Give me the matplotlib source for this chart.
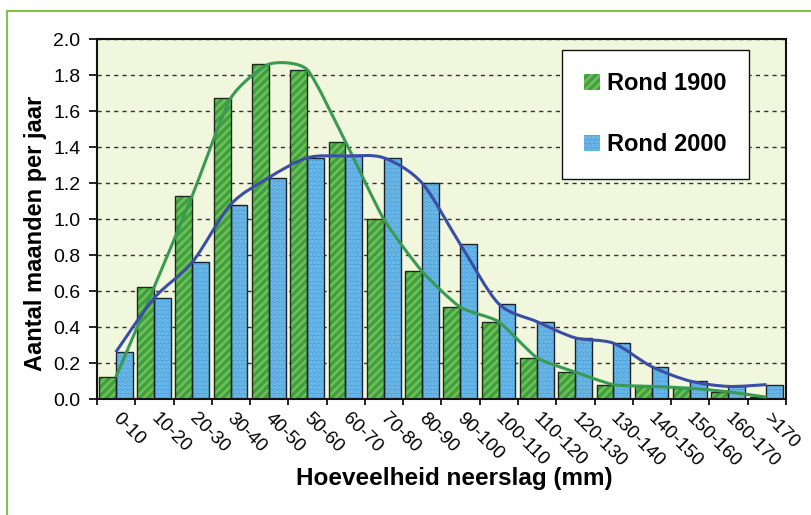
import numpy as np
import matplotlib.pyplot as plt
from matplotlib.patches import Rectangle, PathPatch
from matplotlib.path import Path
from matplotlib.transforms import ScaledTranslation

plt.rcParams['font.family'] = ['Liberation Sans', 'DejaVu Sans']
plt.rcParams['hatch.linewidth'] = 2.0

## DATA ##
categories = ['0-10', '10-20', '20-30', '30-40', '40-50', '50-60', '60-70',
              '70-80', '80-90', '90-100', '100-110', '110-120', '120-130',
              '130-140', '140-150', '150-160', '160-170', '>170']
rond_1900 = [0.12, 0.62, 1.13, 1.67, 1.86, 1.83, 1.43, 1.00, 0.71, 0.51,
             0.43, 0.23, 0.15, 0.08, 0.07, 0.06, 0.04, 0.01]
rond_2000 = [0.26, 0.56, 0.76, 1.08, 1.23, 1.34, 1.35, 1.34, 1.20, 0.86,
             0.53, 0.43, 0.34, 0.31, 0.18, 0.10, 0.07, 0.08]
yticks = [0.0, 0.2, 0.4, 0.6, 0.8, 1.0, 1.2, 1.4, 1.6, 1.8, 2.0]

GREEN = '#3e9f3c'
GREEN_HATCH = '#6cbf58'
BLUE = '#4ba4de'
BLUE_HATCH = '#7cc0ea'
GREEN_LINE = '#3a9a52'
BLUE_LINE = '#3b4ea6'


def smooth_path(xs, ys, k=10.0):
    # Bezier path through the points (lightly smoothed line)
    pts = np.column_stack([xs, ys])
    n = len(pts)
    verts = [pts[0]]
    codes = [Path.MOVETO]
    for i in range(n - 1):
        p0 = pts[max(i - 1, 0)]
        p1 = pts[i]
        p2 = pts[i + 1]
        p3 = pts[min(i + 2, n - 1)]
        verts += [p1 + (p2 - p0) / k, p2 - (p3 - p1) / k, p2]
        codes += [Path.CURVE4] * 3
    return Path(verts, codes)


## PLOT ##
fig = plt.figure(figsize=(8.12, 5.15), dpi=100)
ax = fig.add_axes([97 / 812, 1 - 399 / 515, 689 / 812, 360 / 515])
ax.set_facecolor('#f0f7dc')

# green frame around the whole chart
fig.patches.append(Rectangle((7 / 812, -0.05), 1.1, 1 - 11 / 515 + 0.05,
                             transform=fig.transFigure, fill=False,
                             edgecolor='#84c24e', lw=1.5))

idx = np.arange(len(categories))
w = 0.44
x_g = idx + 0.05
x_b = idx + 0.49

ax.bar(x_g, rond_1900, w, align='edge', color=GREEN, edgecolor=GREEN_HATCH,
       hatch='////', lw=0, zorder=2)
ax.bar(x_g, rond_1900, w, align='edge', facecolor='none', edgecolor='#1e2a1e',
       lw=1.0, zorder=3)
ax.bar(x_b, rond_2000, w, align='edge', color=BLUE, edgecolor=BLUE_HATCH,
       hatch='....', lw=0, zorder=2)
ax.bar(x_b, rond_2000, w, align='edge', facecolor='none', edgecolor='#1a2230',
       lw=1.0, zorder=3)

ax.add_patch(PathPatch(smooth_path(x_b, rond_1900), fill=False,
                       edgecolor=GREEN_LINE, lw=2.2, zorder=5))
ax.add_patch(PathPatch(smooth_path(x_b, rond_2000, k=7.0), fill=False,
                       edgecolor=BLUE_LINE, lw=2.2, zorder=6))

ax.set_xlim(0, len(categories))
ax.set_ylim(0, 2.0)
ax.set_yticks(yticks)
ax.set_yticklabels([f'{v:.1f}' for v in yticks], fontsize=14)
ax.tick_params(axis='y', direction='out', length=6, width=1.2, pad=6)

ax.set_xticks(np.arange(len(categories) + 1))
ax.set_xticklabels([])
ax.set_xticks(idx + 0.5, minor=True)
ax.set_xticklabels(categories, minor=True, rotation=-45, ha='left', va='top',
                   rotation_mode='anchor', fontsize=13.5)
ax.tick_params(axis='x', which='major', direction='out', length=4, width=1.2)
ax.tick_params(axis='x', which='minor', length=0, pad=8)
shift = ScaledTranslation(5 / 100, 0, fig.dpi_scale_trans)
for lab in ax.get_xticklabels(minor=True):
    lab.set_transform(lab.get_transform() + shift)

ax.set_axisbelow(True)
ax.yaxis.grid(True, color='#333333', lw=1.0, ls=(0, (3, 3)))
for s in ax.spines.values():
    s.set_linewidth(1.5)
    s.set_color('#111111')

handles = [Rectangle((0, 0), 1, 1, facecolor=GREEN, edgecolor=GREEN_HATCH,
                     hatch='////', lw=0),
           Rectangle((0, 0), 1, 1, facecolor=BLUE, edgecolor=BLUE_HATCH,
                     hatch='....', lw=0)]
leg = ax.legend(handles, ['Rond 1900', 'Rond 2000'], loc='upper left',
                bbox_to_anchor=((562 - 97) / 689, 1 - (50 - 39) / 360),
                borderaxespad=0, frameon=True, fancybox=False,
                prop={'weight': 'bold', 'size': 17}, handlelength=0.65,
                handleheight=0.65, handletextpad=0.3, labelspacing=1.6,
                borderpad=0.95)
leg.get_frame().set_edgecolor('#111111')
leg.get_frame().set_linewidth(1.0)
leg.get_frame().set_facecolor('white')
leg.get_frame().set_alpha(1)
leg.set_zorder(10)

fig.text(36 / 812, 1 - 233 / 515, 'Aantal maanden per jaar', rotation=90,
         ha='center', va='center', fontsize=17, fontweight='bold')
fig.text(454 / 812, 1 - 479 / 515, 'Hoeveelheid neerslag (mm)',
         ha='center', va='center', fontsize=17.5, fontweight='bold')

fig.savefig('out.png', dpi=100, facecolor='white')
